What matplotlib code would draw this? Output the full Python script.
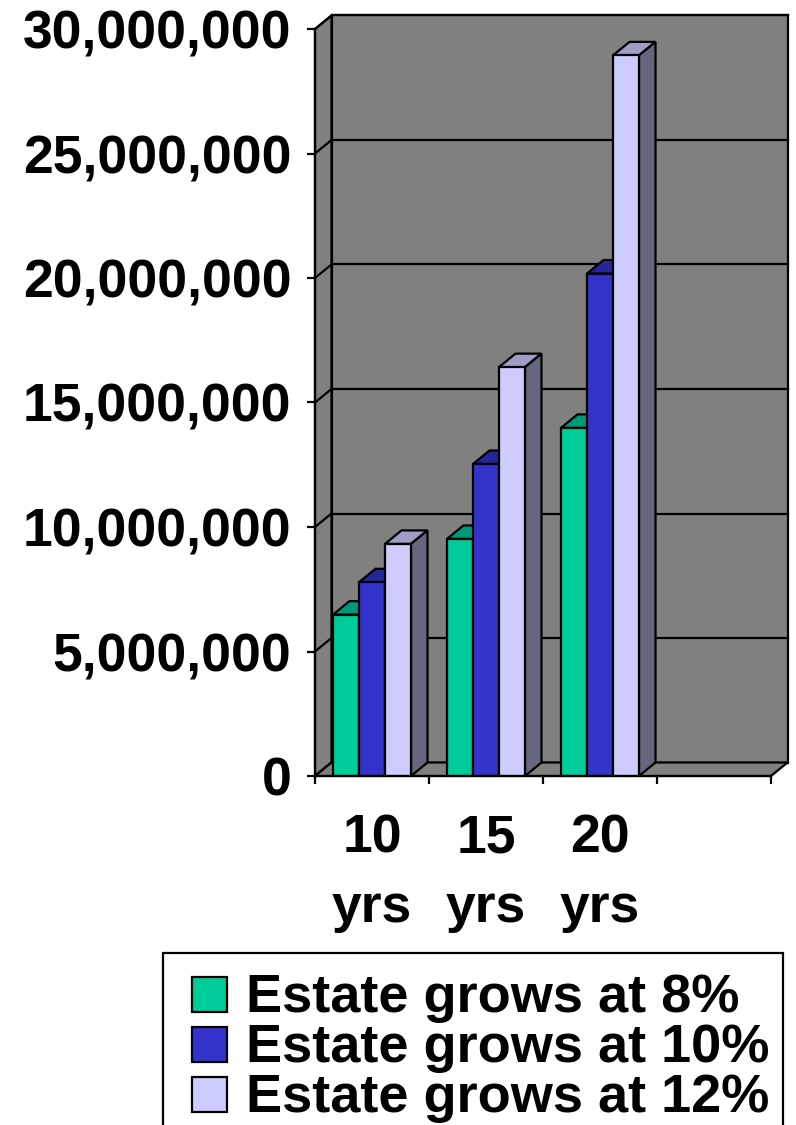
import matplotlib
matplotlib.use("Agg")
import matplotlib.pyplot as plt
from matplotlib.patches import Polygon, Rectangle
from matplotlib.ticker import FuncFormatter

plt.rcParams['font.family'] = ['Liberation Sans', 'DejaVu Sans']
plt.rcParams['font.weight'] = 'bold'

# data
categories = ['10\nyrs', '15\nyrs', '20\nyrs']
series = ['Estate grows at 8%', 'Estate grows at 10%', 'Estate grows at 12%']
grow_8 = [6.48e6, 9.52e6, 13.98e6]
grow_10 = [7.78e6, 12.53e6, 20.18e6]
grow_12 = [9.32e6, 16.42e6, 28.94e6]
values = [grow_8, grow_10, grow_12]

front_colors = ['#00CC99', '#3333CC', '#CCCCFF']
top_colors = ['#009977', '#262699', '#9D9DC8']
side_colors = ['#00735A', '#1F1F80', '#66667F']
wall = '#808080'

W, H = 796, 1125
fig = plt.figure(figsize=(W / 100, H / 100), dpi=100)
ax = fig.add_axes([315 / W, 1 - 776 / H, 456 / W, 747 / H])
ax.patch.set_visible(False)

n_slots = 4
ymax = 30e6
ax.set_xlim(0, n_slots)
ax.set_ylim(0, ymax)

# depth offset of the pseudo 3d look, in data units
px_x = n_slots / 456
px_y = ymax / 747
dx = 16.5 * px_x
dy = 13.5 * px_y

lw = 1.6
# walls and floor
ax.add_patch(Polygon([(dx, dy), (n_slots + dx, dy), (n_slots + dx, ymax + dy), (dx, ymax + dy)],
                     fc=wall, ec='k', lw=lw, zorder=0.5, clip_on=False))
ax.add_patch(Polygon([(0, 0), (dx, dy), (dx, ymax + dy), (0, ymax)],
                     fc=wall, ec='k', lw=lw, zorder=0.5, clip_on=False))
ax.add_patch(Polygon([(0, 0), (n_slots, 0), (n_slots + dx, dy), (dx, dy)],
                     fc=wall, ec='k', lw=lw, zorder=0.6, clip_on=False))
yticks = [i * 5e6 for i in range(7)]
for v in yticks:
    ax.plot([dx, n_slots + dx], [v + dy, v + dy], color='k', lw=lw, zorder=0.55, clip_on=False)
    ax.plot([0, dx], [v, v + dy], color='k', lw=lw, zorder=0.55, clip_on=False)

# bars
bw = 26 * px_x
start = 18 * px_x
for j, vals in enumerate(values):
    xs = [i + start + j * bw for i in range(len(vals))]
    z = 2 + j
    ax.bar(xs, vals, width=bw, align='edge', color=front_colors[j], edgecolor='k',
           linewidth=lw, zorder=z + 0.5)
    for x, v in zip(xs, vals):
        ax.add_patch(Polygon([(x, v), (x + bw, v), (x + bw + dx, v + dy), (x + dx, v + dy)],
                             fc=top_colors[j], ec='k', lw=lw, zorder=z, clip_on=False))
        ax.add_patch(Polygon([(x + bw, 0), (x + bw + dx, dy), (x + bw + dx, v + dy), (x + bw, v)],
                             fc=side_colors[j], ec='k', lw=lw, zorder=z, clip_on=False))

# axes
for s in ['top', 'right']:
    ax.spines[s].set_visible(False)
for s in ['left', 'bottom']:
    ax.spines[s].set_linewidth(lw)
    ax.spines[s].set_zorder(10)

ax.set_yticks(yticks)
ax.yaxis.set_major_formatter(FuncFormatter(lambda v, p: f'{int(v):,}'))
ax.tick_params(axis='y', length=6, width=lw, labelsize=38.5, pad=11)

ax.set_xticks(range(n_slots + 1))
ax.set_xticklabels([])
ax.tick_params(axis='x', which='major', length=6, width=lw)
ax.set_xticks([i + 0.5 for i in range(len(categories))], minor=True)
ax.set_xticklabels(categories, minor=True, fontsize=38.5, linespacing=1.5)
ax.tick_params(axis='x', which='minor', length=0, pad=27)

# legend
lax = fig.add_axes([0, 0, 1, 1])
lax.set_xlim(0, W)
lax.set_ylim(H, 0)
lax.axis('off')
lax.add_patch(Rectangle((163, 953), 783 - 163, 200, fc='white', ec='k', lw=lw, clip_on=True))
for j, name in enumerate(series):
    base = 1012 + j * 50
    lax.add_patch(Rectangle((192, base - 35), 35, 35, fc=front_colors[j], ec='k', lw=lw))
    lax.text(246, base, name, fontsize=39, fontweight='bold', va='baseline', ha='left')

fig.savefig('out.png', dpi=100)
